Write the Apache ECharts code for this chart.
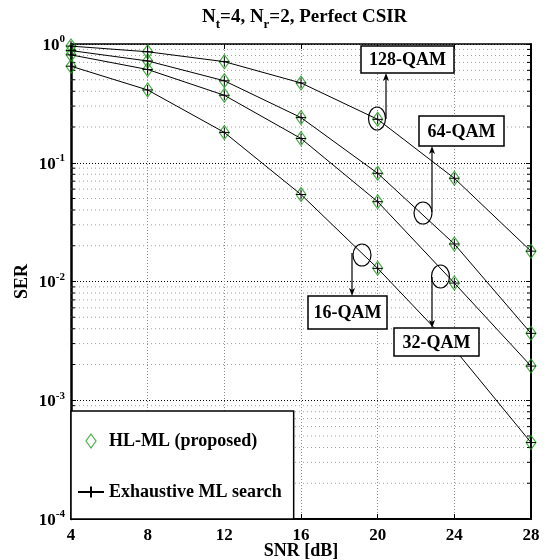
<!DOCTYPE html>
<html>
<head>
<meta charset="utf-8">
<script src="https://cdn.jsdelivr.net/npm/echarts@6/dist/echarts.min.js"></script>
<style>
  html, body { margin: 0; padding: 0; background: #fff; }
  #chart { width: 550px; height: 560px; }
</style>
</head>
<body>
<div id="chart"></div>
<script>
// SNR points (dB) shared by all curves
const snr = [4, 8, 12, 16, 20, 24, 28];

// Symbol error rate per modulation (exhaustive ML and HL-ML coincide)
const ser128 = [0.96, 0.86, 0.71, 0.47, 0.232, 0.074, 0.018];
const ser64  = [0.88, 0.72, 0.49, 0.24, 0.0815, 0.0207, 0.00366];
const ser32  = [0.81, 0.61, 0.37, 0.16, 0.047, 0.0097, 0.00194];
const ser16  = [0.65, 0.41, 0.18, 0.054, 0.0129, 0.0027, 0.00044];

const curves = [ser128, ser64, ser32, ser16];
const curveNames = ['128-QAM', '64-QAM', '32-QAM', '16-QAM'];

// Axis ranges / ticks
const xMin = 4, xMax = 28, xStep = 4;
const yMin = 1e-4, yMax = 1;
const minorMantissas = [2, 3, 4, 5, 6, 7, 8, 9];
const minorDecades = [1e-4, 1e-3, 1e-2, 1e-1];

const legendProposed = 'HL-ML (proposed)';
const legendExhaustive = 'Exhaustive ML search';

const FF = '"Liberation Serif", "Times New Roman", serif';
const GREEN = '#1c9a1c';

const minorValues = [];
minorDecades.forEach(d => minorMantissas.forEach(m => minorValues.push([xMin, m * d])));

const chart = echarts.init(document.getElementById('chart'), null, { renderer: 'canvas' });

const series = [];

// Minor log grid lines and minor ticks on both vertical axes
series.push({
  type: 'custom',
  name: 'minor-grid',
  silent: true,
  z: 1,
  data: minorValues,
  encode: { x: 0, y: 1 },
  renderItem: function (params, api) {
    const v = api.value(1);
    const p0 = api.coord([xMin, v]);
    const p1 = api.coord([xMax, v]);
    return {
      type: 'group',
      children: [
        { type: 'line', shape: { x1: p0[0], y1: p0[1], x2: p1[0], y2: p1[1] },
          style: { stroke: '#a0a0a0', lineWidth: 1, lineDash: [1, 3] } },
        { type: 'line', shape: { x1: p0[0], y1: p0[1], x2: p0[0] + 4, y2: p0[1] },
          style: { stroke: '#000', lineWidth: 1 } },
        { type: 'line', shape: { x1: p1[0] - 4, y1: p1[1], x2: p1[0], y2: p1[1] },
          style: { stroke: '#000', lineWidth: 1 } }
      ]
    };
  }
});

curves.forEach((vals, i) => {
  const pts = snr.map((x, k) => [x, vals[k]]);
  series.push({
    type: 'scatter',
    name: legendProposed,
    data: pts,
    symbol: 'diamond',
    symbolSize: [10, 14],
    itemStyle: { color: 'rgba(0,0,0,0)', borderColor: GREEN, borderWidth: 1.2 },
    z: 3
  });
  series.push({
    type: 'line',
    name: legendExhaustive,
    data: pts,
    symbol: 'path://M0,5L10,5M5,0L5,10',
    symbolSize: 10,
    showSymbol: true,
    lineStyle: { color: '#000', width: 1 },
    itemStyle: { color: '#000', borderColor: '#000', borderWidth: 1 },
    z: 4
  });
});

const tickFont = { fontFamily: FF, fontWeight: 'bold', color: '#000' };

// Annotation ellipses, arrows and labelled boxes
const notes = [
  { label: '128-QAM', ell: [377, 118.5, 8.5, 11.5], arrow: [386, 119, 73], box: [361, 46, 93, 27] },
  { label: '64-QAM',  ell: [423, 213, 9, 11],       arrow: [432, 212, 146], box: [419, 116, 85, 30] },
  { label: '16-QAM',  ell: [362, 255, 9, 11],       arrow: [352, 253, 296], box: [308, 296, 79, 33] },
  { label: '32-QAM',  ell: [440.5, 276.5, 9, 11.5], arrow: [432, 277, 328], box: [394, 328, 85, 28] }
];
const graphic = [];
notes.forEach(n => {
  const [cx, cy, rx, ry] = n.ell;
  const [ax, ay0, ay1] = n.arrow;
  const dir = ay1 < ay0 ? -1 : 1;
  graphic.push({ type: 'ellipse', z: 100, shape: { cx, cy, rx, ry },
    style: { fill: 'none', stroke: '#000', lineWidth: 1.2 } });
  graphic.push({ type: 'line', z: 100, shape: { x1: ax, y1: ay0, x2: ax, y2: ay1 - dir * 4 },
    style: { stroke: '#000', lineWidth: 1.2 } });
  graphic.push({ type: 'polygon', z: 101,
    shape: { points: [[ax, ay1], [ax - 3, ay1 - dir * 8], [ax, ay1 - dir * 6], [ax + 3, ay1 - dir * 8]] },
    style: { fill: '#000' } });
  const [bx, by, bw, bh] = n.box;
  graphic.push({ type: 'rect', z: 102, shape: { x: bx, y: by, width: bw, height: bh },
    style: { fill: '#fff', stroke: '#000', lineWidth: 1.5 } });
  graphic.push({ type: 'text', z: 103, x: bx + bw / 2, y: by + bh / 2 + 1,
    style: { text: n.label, align: 'center', verticalAlign: 'middle',
      fontFamily: FF, fontWeight: 'bold', fontSize: 18, fill: '#000' } });
});

chart.setOption({
  animation: false,
  backgroundColor: '#fff',
  title: {
    text: '{b|N}{s|t}{b|=4, N}{s|r}{b|=2, Perfect CSIR}',
    left: 197,
    top: 3,
    textStyle: {
      rich: {
        b: { fontFamily: FF, fontWeight: 'bold', fontSize: 19, color: '#000', verticalAlign: 'top', lineHeight: 21 },
        s: { fontFamily: FF, fontWeight: 'bold', fontSize: 13, color: '#000', verticalAlign: 'top', padding: [10, 0, 0, 0] }
      }
    }
  },
  grid: { left: 71, right: 19, top: 44, bottom: 41, containLabel: false, outerBoundsMode: 'none' },
  legend: {
    orient: 'vertical',
    left: 71,
    top: 411,
    padding: [21, 12, 18, 6],
    itemWidth: 26,
    itemHeight: 14,
    itemGap: 33,
    borderColor: '#000',
    borderWidth: 1.5,
    borderRadius: 0,
    backgroundColor: '#fff',
    textStyle: { fontFamily: FF, fontWeight: 'bold', fontSize: 18, color: '#000' },
    data: [
      { name: legendProposed, icon: 'path://M5,0L10,7L5,14L0,7Z',
        itemStyle: { color: 'rgba(0,0,0,0)', borderColor: GREEN, borderWidth: 1.2 } },
      { name: legendExhaustive }
    ],
    selectedMode: false,
    z: 50
  },
  xAxis: [
    {
      type: 'value', min: xMin, max: xMax, interval: xStep,
      name: 'SNR [dB]', nameLocation: 'middle', nameGap: 23, nameMoveOverlap: false,
      nameTextStyle: { fontFamily: FF, fontWeight: 'bold', fontSize: 18, color: '#000' },
      axisLine: { lineStyle: { color: '#000', width: 2 } },
      axisTick: { inside: true, length: 5, lineStyle: { color: '#000' } },
      axisLabel: Object.assign({ fontSize: 17, margin: 8 }, tickFont),
      splitLine: { show: true, lineStyle: { color: '#8a8a8a', type: [1, 2], width: 1 } }
    },
    {
      type: 'value', min: xMin, max: xMax, interval: xStep, position: 'top',
      axisLine: { lineStyle: { color: '#000', width: 1.5 } },
      axisTick: { inside: true, length: 5, lineStyle: { color: '#000' } },
      axisLabel: { show: false },
      splitLine: { show: false }
    }
  ],
  yAxis: [
    {
      type: 'log', logBase: 10, min: yMin, max: yMax, interval: 1,
      name: 'SER', nameLocation: 'middle', nameGap: 40, nameRotate: 90, nameMoveOverlap: false,
      nameTextStyle: { fontFamily: FF, fontWeight: 'bold', fontSize: 18, color: '#000' },
      axisLine: { show: true, lineStyle: { color: '#000', width: 2.5 } },
      axisTick: { show: true, inside: true, length: 5, lineStyle: { color: '#000' } },
      axisLabel: {
        margin: 6,
        formatter: function (v) {
          return '{b|10}{e|' + Math.round(Math.log10(v)) + '}';
        },
        rich: {
          b: { fontFamily: FF, fontWeight: 'bold', fontSize: 17, color: '#000', verticalAlign: 'bottom' },
          e: { fontFamily: FF, fontWeight: 'bold', fontSize: 11, color: '#000', verticalAlign: 'bottom', padding: [0, 0, 9, 0] }
        }
      },
      splitLine: { show: true, lineStyle: { color: '#000', type: [1, 2], width: 1 } }
    },
    {
      type: 'log', logBase: 10, min: yMin, max: yMax, interval: 1, position: 'right',
      axisLine: { show: true, lineStyle: { color: '#000', width: 2 } },
      axisTick: { show: true, inside: true, length: 5, lineStyle: { color: '#000' } },
      axisLabel: { show: false },
      splitLine: { show: false }
    }
  ],
  series: series,
  graphic: graphic
});
</script>
</body>
</html>
